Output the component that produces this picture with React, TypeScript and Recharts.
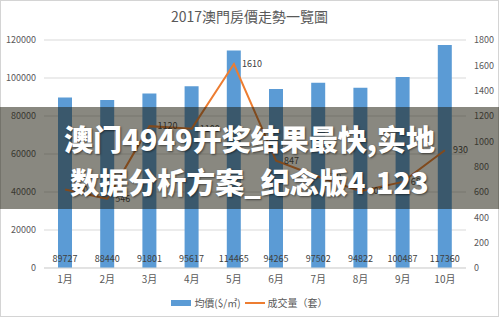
import { ComposedChart, Bar, Line, XAxis, YAxis, CartesianGrid, LabelList } from "recharts";

const months = ["1月", "2月", "3月", "4月", "5月", "6月", "7月", "8月", "9月", "10月"];
const avgPrice = [89727, 88440, 91801, 95617, 114465, 94265, 97502, 94822, 100487, 117360];
const deals = [620, 546, 1120, 1100, 1610, 847, 720, 606, 680, 930];
const leftTicks = [0, 20000, 40000, 60000, 80000, 100000, 120000];
const rightTicks = [0, 200, 400, 600, 800, 1000, 1200, 1400, 1600, 1800];

const data = months.map((m, i) => ({ month: m, price: avgPrice[i], deals: deals[i] }));

const FONT = "'Noto Sans CJK TC', 'Noto Sans', sans-serif";
const BLUE = "#5b9bd5";
const ORANGE = "#ed7d31";

export default function App() {
  return (
    <div style={{ position: "fixed", left: 0, top: 0, width: 499, height: 317, background: "#fff", fontFamily: FONT, overflow: "hidden" }}>
      <div style={{ position: "absolute", inset: 0, border: "1px solid #d4d4d4", boxSizing: "border-box" }} />
      <div style={{ position: "absolute", top: 6, width: "100%", textAlign: "center", fontSize: 14, color: "#595959" }}>
        2017澳門房價走勢一覽圖
      </div>
      <ComposedChart width={499} height={317} data={data} margin={{ top: 40, right: 0, left: 0, bottom: 29 }}>
        <CartesianGrid yAxisId="left" vertical={false} stroke="#d9d9d9" />
        <XAxis dataKey="month" height={20} tickLine={false} axisLine={{ stroke: "#d9d9d9" }}
          tick={{ fontSize: 10, fill: "#595959", fontFamily: FONT }} />
        <YAxis yAxisId="left" width={44} domain={[0, 120000]} ticks={leftTicks} axisLine={false} tickLine={false}
          tick={{ fontSize: 9, fill: "#595959", fontFamily: FONT }} />
        <YAxis yAxisId="right" orientation="right" width={33} domain={[0, 1800]} ticks={rightTicks} axisLine={false} tickLine={false}
          tick={{ fontSize: 9, fill: "#595959", fontFamily: FONT }} />
        <Bar yAxisId="left" dataKey="price" fill={BLUE} barSize={14} isAnimationActive={false}>
          <LabelList dataKey="price" position="insideBottom" offset={6} style={{ fontSize: 9, fill: "#404040", fontFamily: FONT }} />
        </Bar>
        <Line yAxisId="right" dataKey="deals" stroke={ORANGE} strokeWidth={2} dot={false} isAnimationActive={false}>
          <LabelList dataKey="deals" position="right" offset={8} style={{ fontSize: 9, fill: "#404040", fontFamily: FONT }} />
        </Line>
      </ComposedChart>
      {/* legend */}
      <div style={{ position: "absolute", top: 295, left: 0, width: "100%", display: "flex", justifyContent: "center", alignItems: "center", fontSize: 10, color: "#595959" }}>
        <span style={{ display: "inline-block", width: 20, height: 6, background: BLUE, marginRight: 3 }} />
        <span>均價($/㎡)</span>
        <span style={{ display: "inline-block", width: 20, height: 2, background: ORANGE, margin: "0 3px 0 4px" }} />
        <span>成交量（套）</span>
      </div>
      {/* watermark band */}
      <div style={{ position: "absolute", left: 0, top: 107, width: 499, height: 102, background: "rgba(28,26,12,0.52)" }} />
      <div style={{ position: "absolute", left: 0, top: 117, width: 499, textAlign: "center", color: "#fff", fontWeight: 900, fontSize: 29, lineHeight: "43px", fontFamily: "'Noto Sans CJK SC', sans-serif", textShadow: "1px 1px 2px rgba(0,0,0,0.5)" }}>
        <div>澳门4949开奖结果最快,实地</div>
        <div>数据分析方案_纪念版4.123</div>
      </div>
    </div>
  );
}
